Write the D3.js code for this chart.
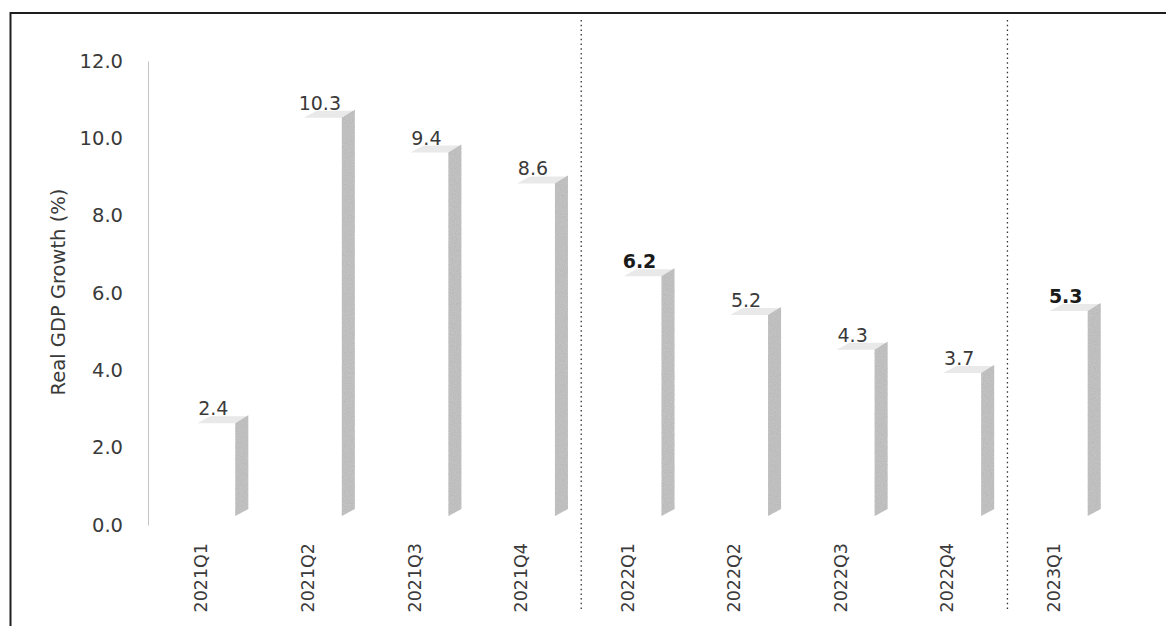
<!DOCTYPE html>
<html>
<head>
<meta charset="utf-8">
<script src="https://cdn.jsdelivr.net/npm/d3@7"></script>
<style>
  html, body { margin: 0; padding: 0; background: #fff; }
  svg { display: block; }
  text { font-family: "DejaVu Sans", Verdana, sans-serif; }
</style>
</head>
<body>
<svg id="chart" width="1166" height="626"></svg>
<script>
// ---- data ----
const categories = ["2021Q1","2021Q2","2021Q3","2021Q4","2022Q1","2022Q2","2022Q3","2022Q4","2023Q1"];
const growth = [2.4, 10.3, 9.4, 8.6, 6.2, 5.2, 4.3, 3.7, 5.3];
const yTicks = [0, 2, 4, 6, 8, 10, 12];
const yTitle = "Real GDP Growth (%)";
const boldCategories = ["2022Q1", "2023Q1"];

const rows = categories.map((c, i) => ({ cat: c, value: growth[i], year: c.slice(0, 4) }));

const W = 1166, H = 626;
const svg = d3.select("#chart");

const defs = svg.append("defs");
const f = defs.append("filter").attr("id", "grain").attr("x", 0).attr("y", 0).attr("width", 1).attr("height", 1);
f.append("feTurbulence").attr("type", "fractalNoise").attr("baseFrequency", 0.9).attr("numOctaves", 2).attr("seed", 3).attr("result", "n");
f.append("feColorMatrix").attr("in", "n").attr("type", "matrix")
  .attr("values", "0 0 0 0 0.45  0 0 0 0 0.45  0 0 0 0 0.45  0 0 0 1.4 -0.45").attr("result", "g");
f.append("feComposite").attr("in", "g").attr("in2", "SourceGraphic").attr("operator", "in").attr("result", "gi");
const fm = f.append("feMerge");
fm.append("feMergeNode").attr("in", "SourceGraphic");
fm.append("feMergeNode").attr("in", "gi");

// frame
svg.append("path")
  .attr("d", `M10.5,${H} V13 H${W}`)
  .attr("fill", "none").attr("stroke", "#1e1e1e").attr("stroke-width", 2);

// scales
const y = d3.scaleLinear().domain([0, 12]).range([525, 61]);
const x = d3.scaleBand().domain(categories).range([148, 1107]);

// y axis
const yAxis = svg.append("g")
  .attr("transform", "translate(148,0)")
  .call(d3.axisLeft(y).tickValues(yTicks).tickFormat(d3.format(".1f")).tickSize(0).tickPadding(25));
yAxis.select(".domain").attr("stroke", "#c4c4c4").attr("stroke-width", 1);
yAxis.selectAll("text")
  .attr("font-size", "19.5px").attr("fill", "#3a3a3a")
  .style("font-family", "'DejaVu Sans', Verdana, sans-serif");

svg.append("text")
  .attr("transform", "translate(58,292) rotate(-90)")
  .attr("text-anchor", "middle").attr("dominant-baseline", "central")
  .attr("font-size", "19.5px").attr("fill", "#3a3a3a")
  .text(yTitle);

// x axis (category labels)
const xAxis = svg.append("g")
  .attr("transform", `translate(0,${y(0)})`)
  .call(d3.axisBottom(x).tickSize(0));
xAxis.select(".domain").remove();
xAxis.selectAll("text")
  .attr("transform", "rotate(-90)")
  .attr("x", -18).attr("y", 0).attr("dy", "0.35em")
  .attr("text-anchor", "end")
  .attr("font-size", "17.5px").attr("fill", "#3a3a3a")
  .style("font-family", "'DejaVu Sans', Verdana, sans-serif");

// year separators (dotted)
const sepCats = rows.filter((r, i) => i > 0 && r.year !== rows[i - 1].year).map(r => r.cat);
svg.selectAll("line.sep").data(sepCats).join("line")
  .attr("class", "sep")
  .attr("x1", d => x(d) + 7).attr("x2", d => x(d) + 7)
  .attr("y1", 20).attr("y2", 612)
  .attr("stroke", "#333").attr("stroke-width", 1.3)
  .attr("stroke-dasharray", "1.5,3.2");

// 3D bars
const lift = 9, dx = 13, dy = -7, fw = 38;
const bars = svg.selectAll("g.bar").data(rows).join("g").attr("class", "bar");
bars.each(function (d) {
  const g = d3.select(this);
  const c = x(d.cat) + x.bandwidth() / 2;
  const x0 = c - 4, x1 = x0 + fw;
  const yT = y(d.value) - lift, yB = y(0) - lift;
  // front face (white)
  g.append("rect").attr("x", x0).attr("y", yT).attr("width", fw).attr("height", yB - yT).attr("fill", "#fff");
  // top face
  g.append("path")
    .attr("d", `M${x0},${yT} L${x0 + dx},${yT + dy} L${x1 + dx},${yT + dy} L${x1},${yT} Z`)
    .attr("fill", "#e9e9e9");
  // side face
  g.append("path")
    .attr("d", `M${x1},${yT} L${x1 + dx},${yT + dy - 1} L${x1 + dx},${yB + dy} L${x1},${yB} Z`)
    .attr("fill", "#c3c3c3").attr("filter", "url(#grain)");
  // value label
  const bold = boldCategories.includes(d.cat);
  g.append("text")
    .attr("x", c + 12).attr("y", y(d.value) - 17)
    .attr("text-anchor", "middle")
    .attr("font-size", bold ? "19px" : "19px")
    .attr("font-weight", bold ? "bold" : "normal")
    .attr("fill", bold ? "#1a1a1a" : "#3a3a3a")
    .text(d3.format(".1f")(d.value));
});
</script>
</body>
</html>
